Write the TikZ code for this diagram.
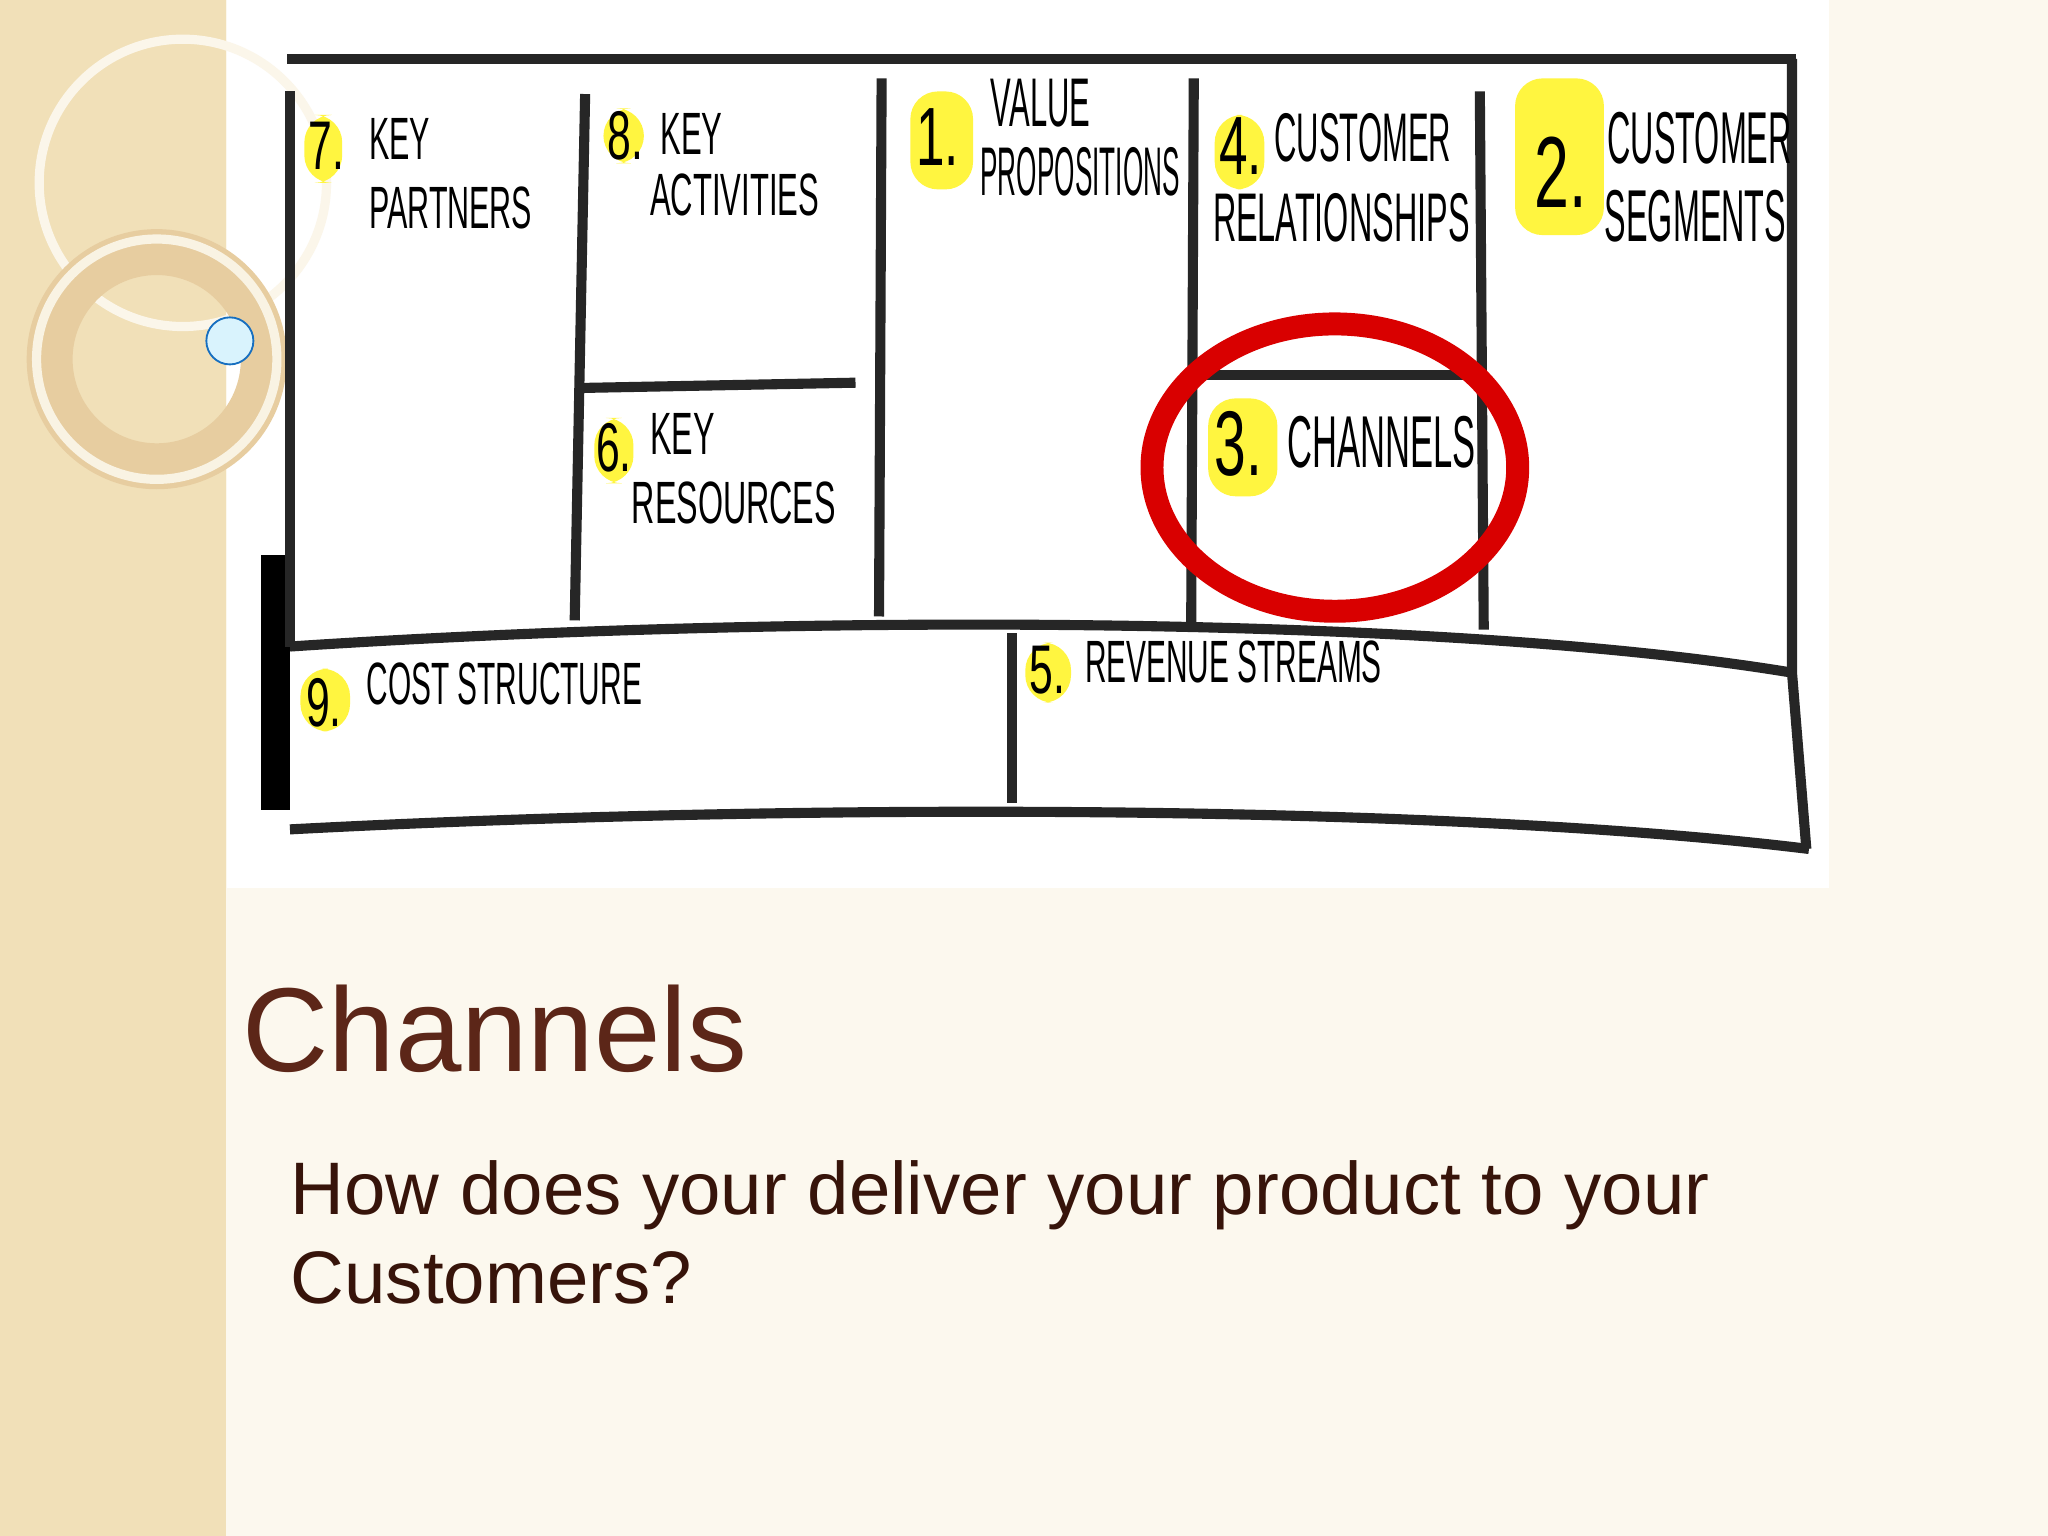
\documentclass[tikz,border=0pt]{standalone}
\usepackage{fontspec}
\setmainfont{Liberation Sans}
\definecolor{strip}{RGB}{241,224,184}
\definecolor{bgc}{RGB}{252,248,238}
\definecolor{ttl}{RGB}{92,38,24}
\definecolor{stx}{RGB}{55,20,10}
\newcommand\cnd[2][0.5]{\scalebox{#1}[1]{#2}}
\begin{document}
\begin{tikzpicture}[x=0.01cm,y=-0.01cm,
  ln/.style={line width=2.2pt,black!85},
  hl/.style={fill=yellow!75,rounded corners=6pt,draw=none},
  lbl/.style={anchor=north west,align=left,font=\fontsize{13}{15}\selectfont,inner sep=0pt},
  num/.style={font=\fontsize{15}{15}\selectfont,inner sep=0pt}]
\useasboundingbox (0,0) rectangle (1568,1176);
\fill[bgc] (0,0) rectangle (1568,1176);
\fill[white] (174,0) rectangle (1400,680);
% left strip
\fill[strip] (0,0) rectangle (173,1176);
\draw[white!70!strip,line width=2pt] (140,140) circle (110);
\draw[strip!80!brown,line width=10pt] (120,275) circle (82);
\draw[white!60!strip,line width=2pt] (120,275) circle (92);
\node[circle,fill=cyan!15,draw=cyan!50!blue,minimum size=0.36cm,inner sep=0pt] (dot) at (176,261) {};
% canvas lines
\fill[black] (200,425) rectangle (222,620);
\draw[ln] (220,45) -- (1375,45);
\draw[ln] (222,70) -- (222,495);
\draw[ln] (448,72) -- (440,475);
\draw[ln] (675,60) -- (673,472);
\draw[ln] (914,60) -- (912,480);
\draw[ln] (1133,70) -- (1136,482);
\draw[ln] (1372,45) -- (1372,515) -- (1383,650);
\draw[ln] (447,297) -- (655,293);
\draw[ln] (914,287) -- (1135,287);
\draw[ln] (222,495) .. controls (600,470) and (1100,470) .. (1372,515);
\draw[ln] (222,635) .. controls (600,615) and (1100,615) .. (1385,650);
\draw[ln] (775,485) -- (775,615);
% labels
\fill[hl] (233,88) rectangle (262,140);
\node[num] (n7) at (250,112) {\cnd[0.62]{7.}};
\node[lbl] (k7) at (282,90) {\cnd[0.51]{KEY}\\\cnd[0.51]{PARTNERS}};
\fill[hl] (462,83) rectangle (493,125);
\node[num] (n8) at (479,104) {\cnd[0.62]{8.}};
\node[lbl] (k8) at (505,86) {\cnd[0.52]{KEY}};
\node[lbl] (k8b) at (497,132) {\cnd[0.52]{ACTIVITIES}};
\fill[hl] (697,70) rectangle (745,145);
\node[num,font=\fontsize{18}{18}\selectfont] (n1) at (718,105) {\cnd[0.62]{1.}};
\node[lbl,font=\fontsize{15}{15}\selectfont] (k1) at (758,60) {\cnd[0.45]{VALUE}};
\node[lbl,font=\fontsize{15}{15}\selectfont] (k1b) at (750,112) {\cnd[0.38]{PROPOSITIONS}};
\fill[hl] (930,88) rectangle (968,145);
\node[num,font=\fontsize{18}{18}\selectfont] (n4) at (950,112) {\cnd[0.62]{4.}};
\node[lbl,font=\fontsize{15}{15}\selectfont] (k4) at (975,86) {\cnd[0.45]{CUSTOMER}};
\node[lbl,font=\fontsize{15}{15}\selectfont] (k4b) at (928,147) {\cnd[0.47]{RELATIONSHIPS}};
\fill[hl] (1160,60) rectangle (1228,180);
\node[num,font=\fontsize{22}{22}\selectfont] (n2) at (1195,132) {\cnd[0.62]{2.}};
\node[lbl,font=\fontsize{16}{16}\selectfont] (k2) at (1230,85) {\cnd[0.44]{CUSTOMER}};
\node[lbl,font=\fontsize{16}{16}\selectfont] (k2b) at (1228,145) {\cnd[0.44]{SEGMENTS}};
\fill[hl] (455,320) rectangle (485,370);
\node[num] (n6) at (470,343) {\cnd[0.62]{6.}};
\node[lbl] (k6) at (497,316) {\cnd[0.54]{KEY}};
\node[lbl] (k6b) at (483,368) {\cnd[0.54]{RESOURCES}};
\fill[hl] (925,305) rectangle (978,380);
\node[num,font=\fontsize{20}{20}\selectfont] (n3) at (948,340) {\cnd[0.62]{3.}};
\node[lbl,font=\fontsize{16}{16}\selectfont] (k3) at (985,318) {\cnd[0.47]{CHANNELS}};
\fill[hl] (230,512) rectangle (268,560);
\node[num] (n9) at (248,538) {\cnd[0.62]{9.}};
\node[lbl] (k9) at (280,507) {\cnd[0.5]{COST STRUCTURE}};
\fill[hl] (785,492) rectangle (820,538);
\node[num] (n5) at (802,513) {\cnd[0.62]{5.}};
\node[lbl] (k5) at (830,490) {\cnd[0.5]{REVENUE STREAMS}};
% red ellipse
\draw[red!85!black,line width=5pt] (1022,358) ellipse (140 and 110);
% text
\node[anchor=base west,inner sep=0pt,text=ttl,font=\fontsize{26}{26}\selectfont] (title) at (185,820) {Channels};
\node[anchor=base west,inner sep=0pt,text=stx,align=left,font=\fontsize{16.2}{19.4}\selectfont] (sub) at (222,998) {How does your deliver your product to your\\Customers?};
\end{tikzpicture}
\end{document}
